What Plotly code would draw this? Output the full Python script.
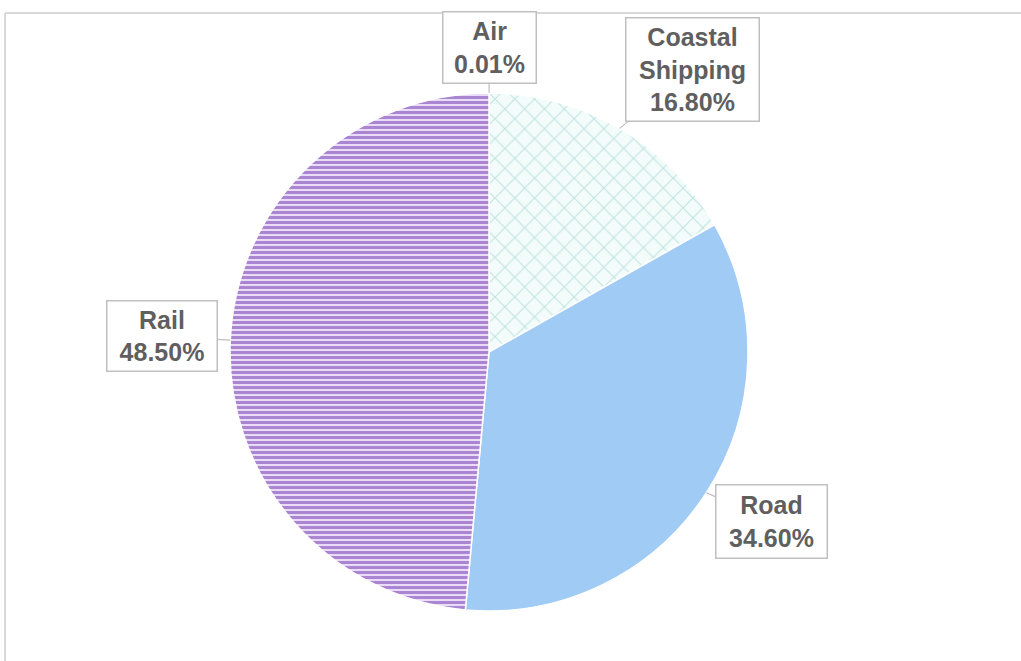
import math
import plotly.graph_objects as go

# ---- data ----
categories = ["Air", "Coastal Shipping", "Road", "Rail"]
label_text = ["Air", "Coastal<br>Shipping", "Road", "Rail"]
shares = [0.01, 16.80, 34.60, 48.50]

# ---- styling ----
W, H = 1021, 661
fill_colors = ["#7FBFBF", "#F4FBFB", "#9FCBF4", "#EADCF8"]
pat_shapes = ["", "x", "", "-"]
pat_fg = ["#7FBFBF", "#8CCFC4", "#9FCBF4", "#6A2DAC"]
pat_size = [8, 14, 8, 5]
pat_solid = [0.3, 0.16, 0.3, 0.6]

dom_x = [230 / W, 748 / W]
dom_y = [1 - 611 / H, 1 - 93 / H]

fig = go.Figure()
fig.add_trace(go.Pie(
    labels=categories,
    values=shares,
    sort=False,
    direction="clockwise",
    rotation=0,
    textinfo="none",
    hoverinfo="label+percent",
    showlegend=False,
    domain=dict(x=dom_x, y=dom_y),
    marker=dict(
        colors=fill_colors,
        line=dict(color="#FFFFFF", width=1.5),
        pattern=dict(shape=pat_shapes, fgcolor=pat_fg, size=pat_size,
                     solidity=pat_solid, fillmode="overlay"),
    ),
))

# callout boxes: pointer at the mid-angle of each slice on the rim
cx = (dom_x[0] + dom_x[1]) / 2 * W
cy = (1 - (dom_y[0] + dom_y[1]) / 2) * H
r = min((dom_x[1] - dom_x[0]) * W, (dom_y[1] - dom_y[0]) * H) / 2
box_offsets = [(0, -46), (73, -59), (65, 29), (-68, -4)]
box_sizes = [(86, 64), (126, 96), (104, 66), (103, 63)]
total = sum(shares)
cum = 0.0
for i, (lab, v) in enumerate(zip(label_text, shares)):
    mid = (cum + v / 2) / total * 360.0
    cum += v
    px = cx + r * math.sin(math.radians(mid))
    py = cy - r * math.cos(math.radians(mid))
    fig.add_annotation(
        x=px / W, y=1 - py / H, xref="paper", yref="paper",
        ax=box_offsets[i][0], ay=box_offsets[i][1],
        text=f"<b>{lab}<br>{v:.2f}%</b>",
        showarrow=True, arrowhead=0, arrowwidth=1.2, arrowcolor="#BFBFBF",
        width=box_sizes[i][0], height=box_sizes[i][1],
        bgcolor="#FFFFFF", bordercolor="#BFBFBF", borderwidth=1.5, borderpad=3,
        font=dict(family="Arial", size=25, color="#5F5F5F"),
        align="center", valign="middle",
    )

# outer chart-area frame (top and left edges visible)
fig.add_shape(type="line", xref="paper", yref="paper",
              x0=5 / W, x1=1, y0=1 - 13 / H, y1=1 - 13 / H,
              line=dict(color="#D9D9D9", width=2))
fig.add_shape(type="line", xref="paper", yref="paper",
              x0=5 / W, x1=5 / W, y0=0, y1=1 - 13 / H,
              line=dict(color="#D9D9D9", width=2))

fig.update_layout(
    width=W, height=H,
    margin=dict(l=0, r=0, t=0, b=0),
    paper_bgcolor="#FFFFFF",
    plot_bgcolor="#FFFFFF",
)

fig.write_html("out.html")
